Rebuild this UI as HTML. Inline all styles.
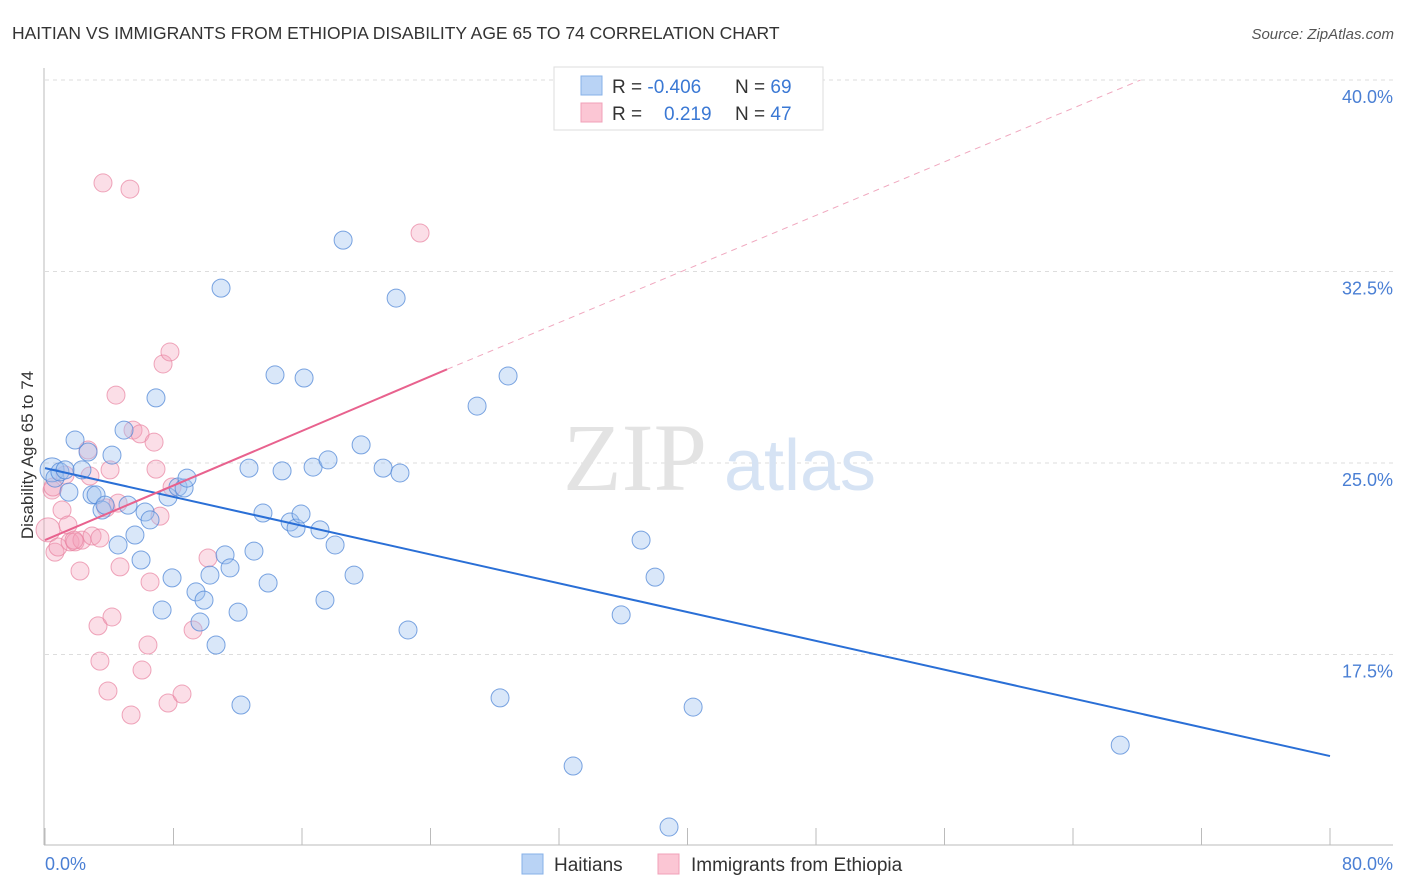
<!DOCTYPE html>
<html><head><meta charset="utf-8"><style>
body{margin:0;background:#fff;font-family:"Liberation Sans",sans-serif;}
svg{display:block}
</style></head><body>
<svg id="chart" width="1406" height="892">
<text x="12" y="39" font-size="17.5" fill="#333">HAITIAN VS IMMIGRANTS FROM ETHIOPIA DISABILITY AGE 65 TO 74 CORRELATION CHART</text>
<text x="1394" y="39" font-size="15" fill="#555" text-anchor="end" font-style="italic">Source: ZipAtlas.com</text>
<g id="grid"></g>
<text x="635" y="490" font-size="96" fill="#e3e3e3" font-family="Liberation Serif,serif" text-anchor="middle">ZIP</text>
<text x="800" y="490" font-size="72" fill="#d6e3f4" text-anchor="middle">atlas</text>
<g id="points"></g>
<g id="lines"></g>
<text transform="translate(33,455) rotate(-90)" font-size="17" fill="#333" text-anchor="middle">Disability Age 65 to 74</text>
<text x="45" y="870" font-size="18" fill="#4a7fd4">0.0%</text>
<text x="1393" y="870" font-size="18" fill="#4a7fd4" text-anchor="end">80.0%</text>
<g>
<rect x="554" y="67" width="269" height="63" fill="#fff" stroke="#ddd"/>
<rect x="581" y="76" width="21" height="19" fill="#b9d3f5" stroke="#86b0e8"/>
<rect x="581" y="103" width="21" height="19" fill="#fbc6d4" stroke="#f0a0b8"/>
<text x="612" y="93" font-size="19" fill="#333">R = <tspan fill="#3a78d4">-0.406</tspan></text>
<text x="735" y="93" font-size="19" fill="#333">N = <tspan fill="#3a78d4">69</tspan></text>
<text x="612" y="120" font-size="19" fill="#333">R = <tspan x="664" fill="#3a78d4">0.219</tspan></text>
<text x="735" y="120" font-size="19" fill="#333">N = <tspan fill="#3a78d4">47</tspan></text>
</g>
<g>
<rect x="522" y="854" width="21" height="20" fill="#b9d3f5" stroke="#86b0e8"/>
<text x="554" y="871" font-size="19" fill="#333">Haitians</text>
<rect x="658" y="854" width="21" height="20" fill="#fbc6d4" stroke="#f0a0b8"/>
<text x="691" y="871" font-size="19" fill="#333">Immigrants from Ethiopia</text>
</g>
</svg>
<script>
const yTicks=[17.5,25.0,32.5,40.0];
const yTickLabels=["17.5%","25.0%","32.5%","40.0%"];
const xTicks=[0,10,20,30,40,50,60,70,80];
const haitiansX=[.44,.62,.93,1.25,1.87,1.49,2.30,2.68,2.93,3.18,3.55,3.74,4.17,4.55,4.92,5.17,5.60,5.98,6.23,6.54,6.91,7.29,7.66,7.91,8.28,8.66,8.84,9.40,9.65,9.90,10.27,10.65,10.96,11.21,11.52,12.02,12.20,12.70,13.01,13.57,13.89,14.32,14.76,15.26,15.63,15.94,16.13,16.69,17.12,17.43,17.62,18.06,18.56,19.24,19.68,21.05,21.86,22.10,22.60,26.90,28.33,28.83,32.88,35.87,37.11,37.98,38.85,40.35,66.94];
const haitiansY=[24.73,24.41,24.65,24.73,25.90,23.86,24.73,25.43,23.75,23.75,23.16,23.35,25.31,21.79,26.29,23.35,22.18,21.20,23.08,22.77,27.55,19.24,23.67,20.50,24.06,24.02,24.41,19.95,18.77,19.63,20.61,17.87,31.85,21.40,20.89,19.16,15.52,24.80,21.55,23.04,20.30,28.45,24.69,22.69,22.45,23.00,28.33,24.84,22.38,19.63,25.12,21.79,33.73,20.61,25.71,24.80,31.46,24.61,18.46,27.23,15.80,28.41,13.13,19.05,21.98,20.53,10.74,15.44,13.95];
const ethiopiaX=[.19,.44,.62,.81,1.06,1.43,1.56,1.87,2.18,2.30,2.68,2.80,2.93,3.30,3.42,3.80,3.92,4.05,4.17,4.42,4.55,4.67,5.36,3.61,5.29,5.48,5.92,6.04,6.41,6.54,6.79,6.91,7.16,7.35,7.66,7.78,7.91,8.53,9.22,10.15,23.35,1.25,.50,3.42,1.81];
const ethiopiaY=[22.38,23.94,21.51,21.71,23.16,22.57,21.91,21.91,20.77,21.98,25.51,24.49,22.14,18.62,17.24,23.24,16.07,24.73,18.97,27.66,23.43,20.93,15.13,35.97,35.73,26.29,26.14,16.89,17.87,20.34,25.82,24.76,22.92,28.88,15.60,29.35,24.06,15.95,18.46,21.28,34.01,24.53,24.06,22.06,21.98];
const blueTrend=[[0,24.80],[80,13.52]];
const pinkTrend=[[0,21.98],[25.03,28.67]];
const pinkTrendExt=[[25.03,28.67],[68.2,40.0]];

const NS="http://www.w3.org/2000/svg";
const xS=v=>45+v*16.0625;
const yS=v=>463-(v-25)*25.53;
function mk(tag,attrs,parent){const e=document.createElementNS(NS,tag);for(const k in attrs)e.setAttribute(k,attrs[k]);parent.appendChild(e);return e;}
const grid=document.getElementById('grid');
yTicks.forEach((t,i)=>{
  const l=mk('line',{x1:45,x2:1393,y1:yS(t),y2:yS(t),stroke:'#ddd','stroke-dasharray':'4,4'},grid);
  
  
  const tx=mk('text',{x:1393,y:yS(t)+23,'font-size':18,fill:'#4a7fd4','text-anchor':'end'},grid);
  tx.textContent=yTickLabels[i];
  
  
});
const ax=mk('line',{x1:44,x2:44,y1:68,y2:845,stroke:'#bbb'},grid);


const bx=mk('line',{x1:44,x2:1393,y1:845,y2:845,stroke:'#bbb'},grid);


for(let i=0;i<=10;i++){
  const v=i*8;
  const tk=mk('line',{x1:xS(v),x2:xS(v),y1:828,y2:845,stroke:'#bbb'},grid);
  
  
}
const pts=document.getElementById('points');
ethiopiaX.forEach((x,i)=>{
  const c=mk('circle',{cx:xS(x),cy:yS(ethiopiaY[i]),r:i==0?12:9,fill:'rgba(244,160,186,0.35)',stroke:'rgba(232,130,160,0.7)','stroke-width':1},pts);
  
  
});
haitiansX.forEach((x,i)=>{
  const c=mk('circle',{cx:xS(x),cy:yS(haitiansY[i]),r:i==0?12:9,fill:'rgba(160,195,240,0.4)',stroke:'rgba(80,135,215,0.75)','stroke-width':1},pts);
  
  
});
const lines=document.getElementById('lines');
const bl=mk('line',{x1:xS(blueTrend[0][0]),y1:yS(blueTrend[0][1]),x2:xS(blueTrend[1][0]),y2:yS(blueTrend[1][1]),stroke:'#2a6fd6','stroke-width':2},lines);


const pl=mk('line',{x1:xS(pinkTrend[0][0]),y1:yS(pinkTrend[0][1]),x2:xS(pinkTrend[1][0]),y2:yS(pinkTrend[1][1]),stroke:'#e8628e','stroke-width':2},lines);


const pe=mk('line',{x1:xS(pinkTrendExt[0][0]),y1:yS(pinkTrendExt[0][1]),x2:xS(pinkTrendExt[1][0]),y2:yS(pinkTrendExt[1][1]),stroke:'#f0a8bf','stroke-width':1,'stroke-dasharray':'6,5'},lines);


</script>
</body></html>
